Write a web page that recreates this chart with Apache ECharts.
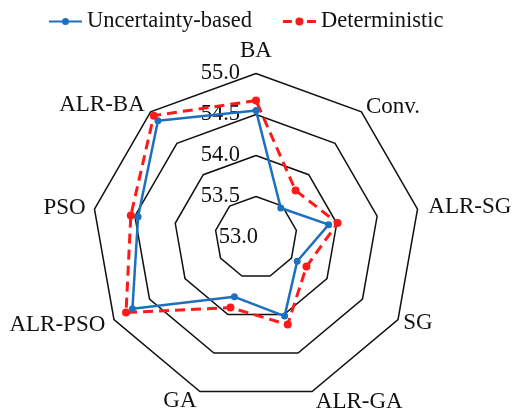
<!DOCTYPE html>
<html><head><meta charset="utf-8">
<script src="https://cdn.jsdelivr.net/npm/echarts@6/dist/echarts.min.js"></script>
<style>html,body{margin:0;padding:0;background:#fff}#c{width:512px;height:410px}</style>
</head><body><div id="c"></div>
<script>
// Indicators listed counter-clockwise from the top (ECharts radar order)
const categories = ['BA', 'ALR-BA', 'PSO', 'ALR-PSO', 'GA', 'ALR-GA', 'SG', 'ALR-SG', 'Conv.'];
const uncertaintyBased = [54.55, 54.86, 54.46, 54.74, 53.77, 54.02, 53.58, 53.90, 53.47];
const deterministic = [54.67, 54.94, 54.55, 54.83, 53.91, 54.13, 53.71, 54.01, 53.75];
const axisMin = 53.0, axisMax = 55.0;
const seriesNames = ['Uncertainty-based', 'Deterministic'];

const BLUE = '#1c70c0', RED = '#ff1a1a';
const nameGaps = [3, 9, 9, 10, 10, 11, 6, 11, 7];
const blueIcon = 'path://M0,4.5 L33,4.5 L33,6.5 L0,6.5 Z M13,5.5 A3.5,3.5 0 1,1 20,5.5 A3.5,3.5 0 1,1 13,5.5 Z';
const redIcon = 'path://M0,4 L9,4 L9,7 L0,7 Z M12.5,5.5 A4,4 0 1,1 20.5,5.5 A4,4 0 1,1 12.5,5.5 Z M24,4 L33,4 L33,7 L24,7 Z';

const chart = echarts.init(document.getElementById('c'));
const indicator = categories.map((name, i) => {
  const o = { name: name, min: axisMin, max: axisMax, nameGap: nameGaps[i] };
  if (i === 0) o.axisLabel = { show: true };
  return o;
});
chart.setOption({
  animation: false,
  textStyle: { fontFamily: 'Liberation Serif' },
  legend: {
    top: 5, left: 44, itemGap: 31, itemWidth: 33, itemHeight: 10,
    textStyle: { fontFamily: 'Liberation Serif', fontSize: 22.5, color: '#111', padding: [0, 0, 0, 0] },
    data: [
      { name: seriesNames[0], icon: blueIcon, itemStyle: { color: BLUE } },
      { name: seriesNames[1], icon: redIcon, itemStyle: { color: RED } }
    ]
  },
  radar: {
    center: [256, 237.5], radius: 164, startAngle: 90,
    splitNumber: 4,
    shape: 'polygon',
    indicator: indicator,
    axisName: { color: '#111', fontFamily: 'Liberation Serif', fontSize: 23 },
    nameGap: 6,
    axisLine: { show: false },
    axisTick: { show: false },
    splitArea: { show: false },
    splitLine: { lineStyle: { color: '#111', width: 1.5 } },
    axisLabel: {
      show: false, color: '#111', fontFamily: 'Liberation Serif', fontSize: 22.5, margin: -2,
      formatter: v => (Math.abs(v - axisMin) < 1e-9 ? '{c|' : '{o|') + v.toFixed(1) + '}',
      rich: {
        c: { fontFamily: 'Liberation Serif', fontSize: 22.5, color: '#111', padding: [0, 0, 0, 0] },
        o: { fontFamily: 'Liberation Serif', fontSize: 22.5, color: '#111', padding: [0, 18, 0, 0] }
      }
    }
  },
  series: [{
    type: 'radar',
    data: [
      { name: seriesNames[0], value: uncertaintyBased,
        symbol: 'circle', symbolSize: 7,
        lineStyle: { color: BLUE, width: 2.5 },
        itemStyle: { color: BLUE } },
      { name: seriesNames[1], value: deterministic,
        symbol: 'circle', symbolSize: 8,
        lineStyle: { color: RED, width: 3, type: [10, 6] },
        itemStyle: { color: RED } }
    ]
  }]
});
</script></body></html>
